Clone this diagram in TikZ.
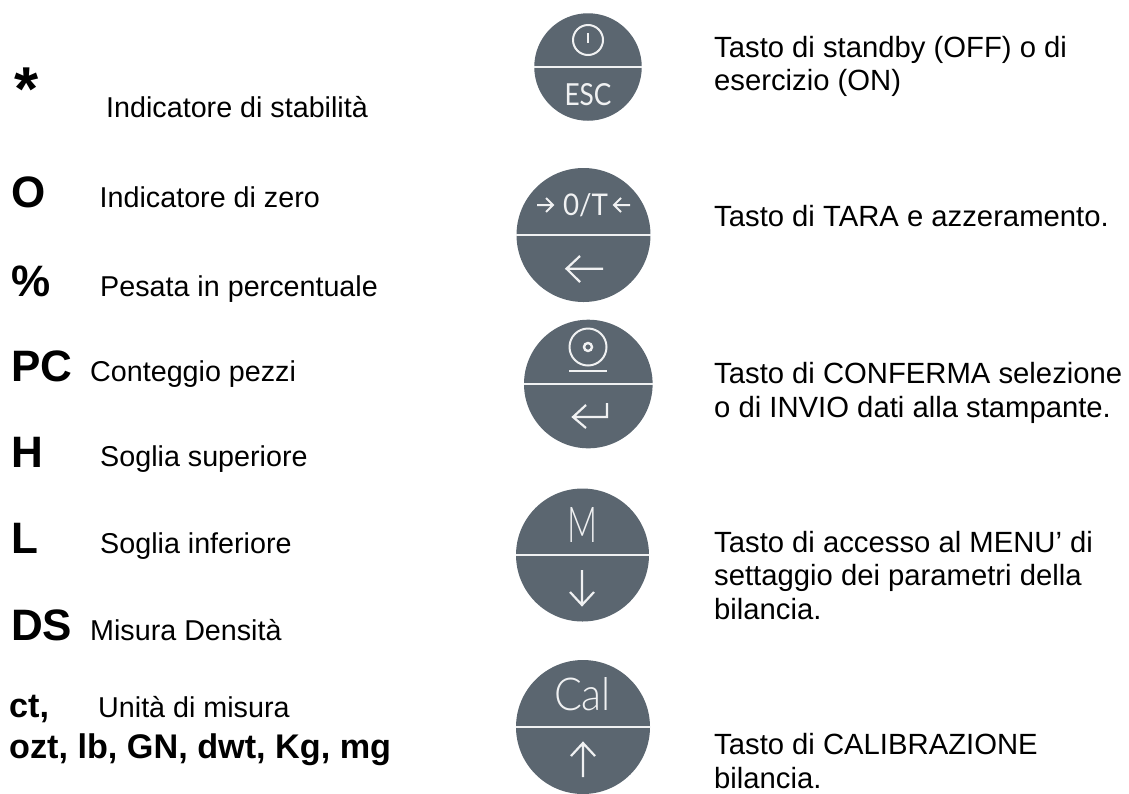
\documentclass[tikz,border=0pt]{standalone}
\usepackage{fontspec}
\setmainfont{Liberation Sans}
\newfontfamily\keyfont{Lato}
\newfontfamily\keylight{Lato}[UprightFont=* Light]
\definecolor{keygrey}{HTML}{5B6670}
\definecolor{keyline}{HTML}{F0F1F2}
\tikzset{
  x=1pt,y=-1pt,
  desc/.style={anchor=base west,inner sep=0pt,font=\fontsize{28.7}{33.5}\selectfont,align=left},
  descr/.style={desc,font=\fontsize{29.25}{33.5}\selectfont},
  sym/.style={anchor=base west,inner sep=0pt,font=\fontsize{44}{44}\selectfont\bfseries},
  symsmall/.style={anchor=base west,inner sep=0pt,font=\fontsize{34.2}{34.2}\selectfont\bfseries},
  keybody/.style={circle,fill=keygrey,inner sep=0pt},
  keystroke/.style={draw=keyline,line width=2pt,fill=none},
  divider/.style={draw=keyline,line width=2.8pt},
  keytext/.style={inner sep=0pt,text=keyline,anchor=base,font=\keyfont},
}
\begin{document}
\begin{tikzpicture}
\useasboundingbox (0,0) rectangle (1129,793);
% left column
\node[sym,font=\fontsize{62}{62}\selectfont\bfseries] (s1) at (14,110) {*};
\node[desc] (d1) at (106,117) {Indicatore di stabilità};
\node[sym] (s2) at (11,207) {O};
\node[desc] (d2) at (99.5,207) {Indicatore di zero};
\node[sym] (s3) at (11,296) {\%};
\node[desc] (d3) at (100,296) {Pesata in percentuale};
\node[sym] (s4) at (11,381) {PC};
\node[desc] (d4) at (90,381) {Conteggio pezzi};
\node[sym] (s5) at (11,467) {H};
\node[desc] (d5) at (100,466) {Soglia superiore};
\node[sym] (s6) at (11,553) {L};
\node[desc] (d6) at (100,553) {Soglia inferiore};
\node[sym] (s7) at (11,640) {DS};
\node[desc] (d7) at (90,640) {Misura Densità};
\node[symsmall] (s8) at (9,717) {ct,};
\node[desc] (d8) at (98,717) {Unità di misura};
\node[symsmall] (s9) at (9,758) {ozt, lb, GN, dwt, Kg, mg};
% keys
\node[keybody,minimum size=107.5pt] (k1) at (588,67) {};
\node[keybody,minimum size=134pt] (k2) at (583.5,235) {};
\node[keybody,minimum size=128.6pt] (k3) at (588.3,384) {};
\node[keybody,minimum size=133pt] (k4) at (582.5,555) {};
\node[keybody,minimum size=134pt] (k5) at (583,727) {};
\draw[divider,line width=2.2pt] (k1.west) -- (k1.east);
\draw[divider] (k2.west) -- (k2.east);
\draw[divider] (k3.west) -- (k3.east);
\draw[divider] (k4.west) -- (k4.east);
\draw[divider] (k5.west) -- (k5.east);
% key 1
\coordinate (p1) at (588,40);
\draw[keystroke] (p1) circle (15);
\draw[keystroke] (588,33) -- (588,43);
\node[keytext] (t1) at (588,105) {\resizebox{47pt}{22pt}{ESC}};
% key 2
\node[keytext] (t2) at (585.5,215) {\resizebox{45pt}{22pt}{0/T}};
\draw[keystroke] (537,205) -- (553,205) (546,198) -- (553,205) -- (546,212);
\draw[keystroke] (630,205) -- (614,205) (621,198) -- (614,205) -- (621,212);
\draw[keystroke,line width=2.2pt] (603,268.7) -- (566.5,268.7) (580,256) -- (566.5,268.7) -- (580,282);
% key 3
\draw[keystroke] (588,347) circle (18.5);
\draw[keystroke,line width=2.4pt] (588,347) circle (4);
\draw[keystroke,line width=2.2pt] (569,371) -- (607,371);
\draw[keystroke,line width=2.2pt] (607,403) -- (607,417) -- (573,417) (586,405) -- (573,417) -- (586,428);
% key 4
\node[keytext,font=\keylight] (t4) at (582,542) {\resizebox{30pt}{35pt}{M}};
\draw[keystroke,line width=2.2pt] (582,570) -- (582,605) (570,592) -- (582,605) -- (594,592);
% key 5
\node[keytext,font=\keylight] (t5) at (582.5,710) {\resizebox{57pt}{33pt}{Cal}};
\draw[keystroke,line width=2.2pt] (583,777) -- (583,743) (571,756) -- (583,743) -- (595,756);
% right column
\node[descr] (r1) at (714,90.5) {Tasto di standby (OFF) o di\\esercizio (ON)};
\node[descr] (r2) at (714,226) {Tasto di TARA e azzeramento.};
\node[descr] (r3) at (714,417) {Tasto di CONFERMA selezione\\o di INVIO dati alla stampante.};
\node[descr] (r4) at (714,619) {Tasto di accesso al MENU’ di\\settaggio dei parametri della\\bilancia.};
\node[descr] (r5) at (714,788) {Tasto di CALIBRAZIONE\\bilancia.};
\end{tikzpicture}
\end{document}
